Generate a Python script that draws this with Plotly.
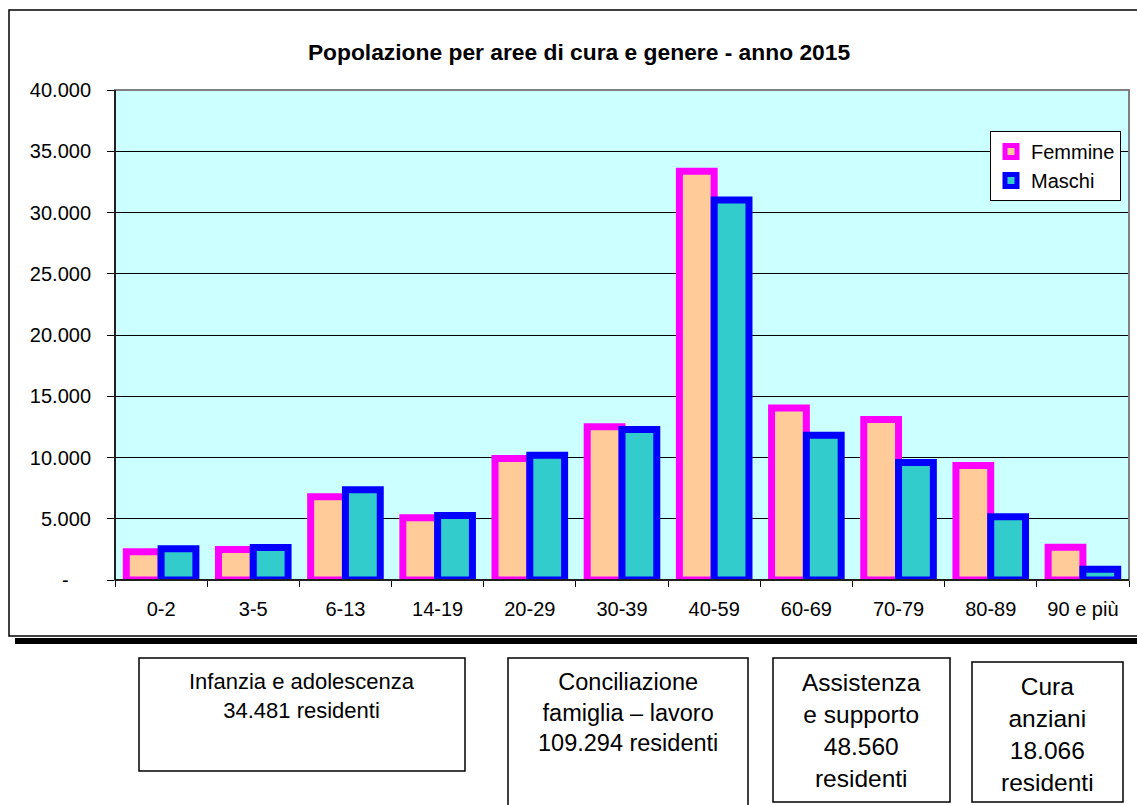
import plotly.graph_objects as go

# age classes and residents by gender, 2015
age_classes = ["0-2", "3-5", "6-13", "14-19", "20-29", "30-39",
               "40-59", "60-69", "70-79", "80-89", "90 e più"]
femmine = [2300, 2490, 6790, 5080, 9915, 12520, 33360, 14050, 13100, 9345, 2680]
maschi = [2550, 2650, 7360, 5260, 10185, 12280, 31030, 11815, 9590, 5155, 880]

y_ticks = [0, 5000, 10000, 15000, 20000, 25000, 30000, 35000, 40000]
y_tick_text = ["-\u00a0\u00a0\u00a0\u00a0", "5.000", "10.000", "15.000", "20.000",
               "25.000", "30.000", "35.000", "40.000"]

area_labels = [
    "Infanzia e adolescenza<br>34.481 residenti",
    "Conciliazione<br>famiglia – lavoro<br>109.294 residenti",
    "Assistenza<br>e supporto<br>48.560<br>residenti",
    "Cura<br>anziani<br>18.066<br>residenti",
]

FONT = "Liberation Sans, Arial, sans-serif"
W, H = 1137, 805
L, R, T, B = 115, 1129, 90, 580   # plot area in pixels


def xp(px):
    return (px - L) / (R - L)


def yp(py):
    return (B - py) / (B - T)


fig = go.Figure()

fig.add_trace(go.Bar(
    x=age_classes, y=femmine, name="Femmine",
    marker=dict(color="#FFCC99", line=dict(color="#FF00FF", width=7)),
))
fig.add_trace(go.Bar(
    x=age_classes, y=maschi, name="Maschi",
    marker=dict(color="#33CCCC", line=dict(color="#0000FF", width=7)),
))

shapes = [
    # outer chart frame and its shadow
    dict(type="rect", xref="paper", yref="paper",
         x0=xp(9), x1=xp(1150), y0=yp(636), y1=yp(10),
         line=dict(color="black", width=1.5)),
    dict(type="rect", xref="paper", yref="paper",
         x0=xp(15), x1=xp(1150), y0=yp(644), y1=yp(638),
         line=dict(width=0), fillcolor="black"),
    # plot area border
    dict(type="rect", xref="paper", yref="paper",
         x0=0, x1=1, y0=0, y1=1,
         line=dict(color="#808080", width=2)),
    dict(type="line", xref="paper", yref="paper",
         x0=0, x1=0, y0=0, y1=1, line=dict(color="#202020", width=2)),
    dict(type="line", xref="paper", yref="paper",
         x0=0, x1=1, y0=0, y1=0, line=dict(color="black", width=1.5)),
]

# care-area boxes below the chart
boxes = [(139, 465, 658, 771), (508, 748, 658, 812),
         (773, 950, 658, 802), (972, 1123, 662, 802)]
box_font = [22, 23.5, 24.5, 24.5]
annotations = []
for (bx0, bx1, by0, by1), label, fs in zip(boxes, area_labels, box_font):
    shapes.append(dict(type="rect", xref="paper", yref="paper",
                       x0=xp(bx0), x1=xp(bx1), y0=yp(by1), y1=yp(by0),
                       line=dict(color="black", width=1.5)))
    annotations.append(dict(
        x=xp((bx0 + bx1) / 2), y=yp(by0 + 9), xref="paper", yref="paper",
        xanchor="center", yanchor="top", showarrow=False, align="center",
        text=label, font=dict(family=FONT, size=fs, color="black"),
    ))

fig.update_layout(
    width=W, height=H, autosize=False,
    margin=dict(l=L, r=W - R, t=T, b=H - B),
    paper_bgcolor="white",
    plot_bgcolor="#CCFFFF",
    barmode="group", bargap=0.245, bargroupgap=0,
    font=dict(family=FONT, size=20, color="black"),
    title=dict(
        text="Popolazione per aree di cura e genere - anno 2015",
        font=dict(family=FONT, size=22.8, color="black", weight="bold"),
        xref="paper", x=xp(579), xanchor="center",
        yref="container", y=1 - 52 / H, yanchor="middle",
    ),
    xaxis=dict(
        type="category", tickson="boundaries",
        ticks="outside", ticklen=6, tickcolor="black", tickwidth=1,
        showgrid=False, showline=False,
        ticklabelstandoff=15,
        tickfont=dict(family=FONT, size=20, color="black"),
    ),
    yaxis=dict(
        range=[0, 40000], tickvals=y_ticks, ticktext=y_tick_text,
        ticks="outside", ticklen=7, tickcolor="black", tickwidth=1,
        showgrid=True, gridcolor="black", gridwidth=1,
        zeroline=False, showline=False,
        ticklabelstandoff=12,
        tickfont=dict(family=FONT, size=20, color="black"),
    ),
    legend=dict(
        x=xp(990), y=yp(131), xanchor="left", yanchor="top",
        bgcolor="white", bordercolor="black", borderwidth=1,
        font=dict(family=FONT, size=20, color="black"),
        tracegroupgap=0, itemwidth=30,
    ),
    shapes=shapes,
    annotations=annotations,
)

fig.write_html("out.html", config={"displayModeBar": False},
               post_script="document.body.style.margin='0';")
